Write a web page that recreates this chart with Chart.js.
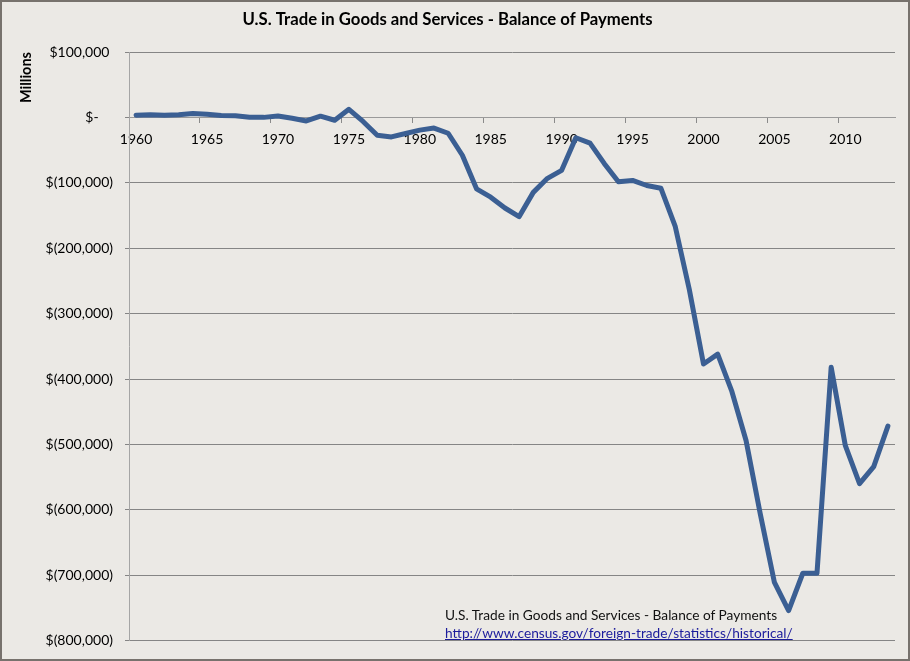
<!DOCTYPE html>
<html>
<head>
<meta charset="utf-8">
<script src="https://cdn.jsdelivr.net/npm/chart.js@4.4.1/dist/chart.umd.min.js"></script>
<style>
  body { margin: 0; background: #ebe9e5; }
  #wrap { position: relative; width: 910px; height: 661px; background: #ebe9e5; }
  #frame { position: absolute; left: 0; top: 0; width: 910px; height: 661px; box-sizing: border-box;
           border: 2px solid #77726d; pointer-events: none; }
  .note { position: absolute; left: 445px; font-family: Lato, sans-serif; font-size: 13.7px; color: #111; white-space: nowrap; }
  .note a { color: #1c1c9c; text-decoration: underline; }
</style>
</head>
<body>
<div id="wrap">
  <canvas id="chart" width="910" height="661"></canvas>
  <div class="note" style="top:606px;">U.S. Trade in Goods and Services - Balance of Payments</div>
  <div class="note" style="top:624px;"><a href="#">http://www.census.gov/foreign-trade/statistics/historical/</a></div>
  <div id="frame"></div>
</div>
<script>
// años (eje X)
const years = ['1960', '1961', '1962', '1963', '1964', '1965', '1966', '1967', '1968', '1969',
  '1970', '1971', '1972', '1973', '1974', '1975', '1976', '1977', '1978', '1979',
  '1980', '1981', '1982', '1983', '1984', '1985', '1986', '1987', '1988', '1989',
  '1990', '1991', '1992', '1993', '1994', '1995', '1996', '1997', '1998', '1999',
  '2000', '2001', '2002', '2003', '2004', '2005', '2006', '2007', '2008', '2009',
  '2010', '2011', '2012', '2013'];

// balance en millones de dólares
const balance = [3500, 4200, 3400, 4200, 6000, 4700, 2900, 2600, 250, 100,
  2300, -1300, -5400, 1900, -4300, 12400, -6100, -27200, -29800, -24600,
  -19400, -16200, -24200, -57800, -109100, -121900, -138500, -151700, -114600, -93100,
  -80900, -31100, -39200, -70300, -98500, -96400, -104100, -108300, -166100, -263200,
  -377000, -362000, -419000, -494000, -606000, -711000, -754000, -697000, -697000, -382000,
  -502000, -560000, -534000, -472000];

// marcas del eje Y
const yMin = -800000;
const yMax = 100000;
const yStep = 100000;

const fmtMoney = (v) => {
  if (v === 0) return '$-    ';
  const s = Math.abs(v).toLocaleString('en-US');
  return v < 0 ? '$(' + s + ')' : '$' + s + ' ';
};

const font = { family: 'Lato, sans-serif', size: 14 };

new Chart(document.getElementById('chart').getContext('2d'), {
  type: 'line',
  data: {
    labels: years,
    datasets: [{
      label: 'Balance',
      data: balance,
      borderColor: '#3b5f93',
      borderWidth: 5,
      borderJoinStyle: 'round',
      borderCapStyle: 'round',
      pointRadius: 0,
      tension: 0,
      fill: false,
    }],
  },
  options: {
    responsive: false,
    animation: false,
    devicePixelRatio: 1,
    layout: { padding: { left: 0, right: 15, top: 0, bottom: 18 } },
    plugins: {
      legend: { display: false },
      tooltip: { enabled: false },
      title: {
        display: true,
        text: 'U.S. Trade in Goods and Services - Balance of Payments',
        color: '#000',
        font: { family: 'Lato, sans-serif', size: 16.7, weight: 'bold' },
        padding: { top: 10, bottom: 22 },
      },
    },
    scales: {
      x: {
        type: 'category',
        offset: true,
        position: { y: 0 },
        afterFit: (scale) => { scale.height = 0; },
        grid: {
          offset: true,
          drawOnChartArea: false,
          drawTicks: true,
          tickLength: 5,
          color: (ctx) => (ctx.index % 5 === 0 ? '#8a8a8a' : 'rgba(0,0,0,0)'),
        },
        border: { display: true, color: '#9a9a9a' },
        ticks: {
          autoSkip: false,
          maxRotation: 0,
          padding: 9,
          color: '#000',
          font: font,
          callback: (v, i) => (i % 5 === 0 ? years[i] : ''),
        },
      },
      y: {
        min: yMin,
        max: yMax,
        afterFit: (scale) => { scale.width = 129; },
        title: {
          display: true,
          text: 'Millions',
          align: 'end',
          color: '#000',
          font: { family: 'Lato, sans-serif', size: 14.5, weight: 'bold' },
          padding: { top: 18, bottom: 0 },
        },
        grid: { color: '#858585', lineWidth: 1, tickLength: 4 },
        border: { display: true, color: '#a5a5a5' },
        ticks: {
          stepSize: yStep,
          padding: 12,
          color: '#000',
          font: font,
          callback: (v) => fmtMoney(v),
        },
      },
    },
  },
});
</script>
</body>
</html>
